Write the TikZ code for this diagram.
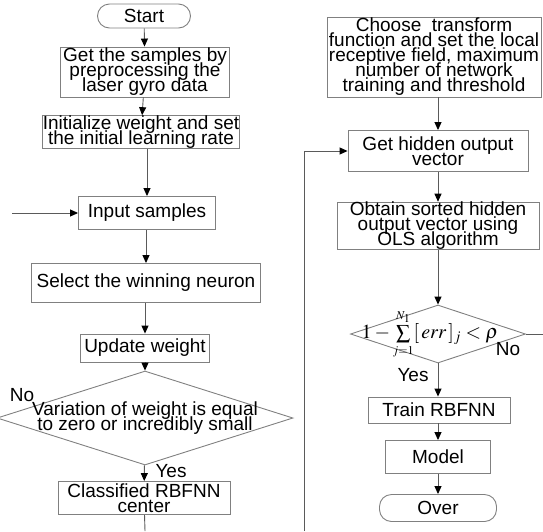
\documentclass[tikz,border=0pt]{standalone}
\usepackage{mathptmx}
\usepackage{fontspec}
\setmainfont{Liberation Sans}
\usetikzlibrary{shapes.geometric,arrows.meta}
\definecolor{lc}{HTML}{808080}
\newcommand{\bodyfont}{\fontsize{19}{15}\selectfont\lineskiplimit=-30pt\relax}
\tikzset{
  box/.style={draw=lc, line width=0.9pt, align=center, inner sep=0pt, font=\bodyfont},
  term/.style={box, rounded corners=12pt},
  dec/.style={draw=lc, line width=0.9pt, diamond, inner sep=0pt},
  lbl/.style={font=\bodyfont, inner sep=0pt},
  conn/.style={draw=lc!70!black, line width=0.9pt},
  arr/.style={conn, -{Triangle[length=8pt,width=7pt,color=black]}}
}
\begin{document}
\begin{tikzpicture}[x=1pt,y=-1pt]
\useasboundingbox (0,0) rectangle (543,531);
% left column
\node[term, minimum width=93, minimum height=24] (start) at (144,16) {Start};
\node[box, minimum width=169, minimum height=50] (b1) at (145,72) {Get the samples by\\preprocessing the\\laser gyro data};
\node[box, minimum width=196, minimum height=31] (b2) at (141,132) {Initialize weight and set\\the initial learning rate};
\node[box, minimum width=137, minimum height=33] (b3) at (147,213) {Input samples};
\node[box, minimum width=229, minimum height=39] (b4) at (146,283) {Select the winning neuron};
\node[box, minimum width=129, minimum height=28] (b5) at (145,348) {Update weight};
\node[dec, minimum width=296, minimum height=94] (d1) at (145,418) {};
\node[lbl, align=center] (d1t) at (145,418) {Variation of weight is equal\\to zero or incredibly small};
\node[box, minimum width=172, minimum height=33] (b6) at (144,498) {Classified RBFNN\\center};
\node[lbl] (yes1) at (171,471) {Yes};
\node[lbl] (no1) at (22,395) {No};
\coordinate (inl) at (12,213);
\coordinate (bot1) at (145,531);
% right column
\node[box, minimum width=214, minimum height=80] (r1) at (434,57) {Choose\ \ transform\\function and set the local\\receptive field, maximum\\number of network\\training and threshold};
\node[box, minimum width=180, minimum height=41] (r2) at (438,151) {Get hidden output\\vector};
\node[box, minimum width=202, minimum height=42] (r3) at (438,226) {Obtain sorted hidden\\output vector using\\OLS algorithm};
\node[dec, minimum width=175, minimum height=58] (d2) at (438,334) {};
\node[lbl] (d2t) at (430,334) {\fontsize{20}{20}\selectfont$1-\sum\limits_{\scriptscriptstyle j=1}^{\scriptscriptstyle N_1}[\,\mathit{err}\,]_j<\rho$};
\node[box, minimum width=142, minimum height=26] (r4) at (439,410) {Train RBFNN};
\node[box, minimum width=105, minimum height=33] (r5) at (438,457) {Model};
\node[term, minimum width=117, minimum height=27] (r6) at (438,508) {Over};
\node[lbl] (yes2) at (413,375) {Yes};
\node[lbl] (no2) at (508,349) {No};
\coordinate (loopb) at (304,531);
\coordinate (loopt) at (304,151);
\coordinate (noout) at (543,334);
% connectors
\draw[arr] (start) -- (b1);
\draw[arr] (b1) -- (b2);
\draw[arr] (b2.south -| b3) -- (b3);
\draw[arr] (inl) -- (b3);
\draw[arr] (b3.south -| b4) -- (b4);
\draw[arr] (b4.south -| b5) -- (b5);
\draw[arr] (b5) -- (d1);
\draw[arr] (d1) -- (b6);
\draw[conn] (b6) -- (bot1);
\draw[arr] (r1.south -| r2) -- (r2);
\draw[arr] (r2) -- (r3);
\draw[arr] (r3) -- (d2);
\draw[arr] (d2) -- (r4.north -| d2);
\draw[arr] (r4.south -| r5) -- (r5);
\draw[arr] (r5) -- (r6);
\draw[arr] (loopb) -- (loopt) -- (r2.west);
\draw[conn] (d2.east) -- (noout);
\end{tikzpicture}
\end{document}
